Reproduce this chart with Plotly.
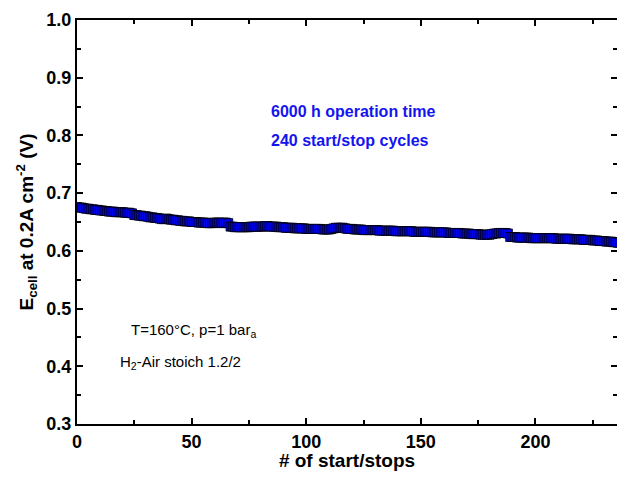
import plotly.graph_objects as go

cycles = list(range(0, 241))
e_cell = [
    0.676, 0.675, 0.675, 0.674, 0.673, 0.673, 0.672, 0.672, 0.671, 0.671,
    0.670, 0.670, 0.669, 0.669, 0.668, 0.668, 0.668, 0.667, 0.667, 0.667,
    0.667, 0.666, 0.666, 0.666, 0.665, 0.662, 0.662, 0.661, 0.661, 0.660,
    0.660, 0.659, 0.658, 0.658, 0.657, 0.657, 0.656, 0.655, 0.655, 0.656,
    0.655, 0.654, 0.654, 0.653, 0.653, 0.652, 0.652, 0.651, 0.651, 0.651,
    0.650, 0.650, 0.650, 0.649, 0.649, 0.649, 0.649, 0.648, 0.648, 0.648,
    0.649, 0.649, 0.649, 0.648, 0.649, 0.649, 0.648, 0.642, 0.642, 0.641,
    0.641, 0.641, 0.641, 0.641, 0.641, 0.641, 0.642, 0.642, 0.642, 0.642,
    0.642, 0.642, 0.643, 0.643, 0.642, 0.642, 0.642, 0.642, 0.641, 0.641,
    0.641, 0.640, 0.640, 0.640, 0.640, 0.639, 0.639, 0.639, 0.639, 0.639,
    0.638, 0.638, 0.638, 0.638, 0.638, 0.638, 0.638, 0.637, 0.637, 0.637,
    0.637, 0.638, 0.639, 0.640, 0.640, 0.640, 0.640, 0.639, 0.638, 0.638,
    0.638, 0.637, 0.637, 0.637, 0.637, 0.636, 0.636, 0.636, 0.636, 0.636,
    0.636, 0.636, 0.635, 0.635, 0.635, 0.635, 0.635, 0.635, 0.635, 0.634,
    0.634, 0.634, 0.634, 0.634, 0.634, 0.634, 0.634, 0.633, 0.633, 0.633,
    0.633, 0.633, 0.633, 0.633, 0.633, 0.632, 0.632, 0.632, 0.632, 0.632,
    0.632, 0.632, 0.631, 0.631, 0.631, 0.631, 0.631, 0.631, 0.630, 0.630,
    0.630, 0.630, 0.629, 0.629, 0.629, 0.629, 0.628, 0.628, 0.628, 0.628,
    0.628, 0.629, 0.630, 0.630, 0.631, 0.631, 0.631, 0.631, 0.630, 0.624,
    0.624, 0.624, 0.623, 0.623, 0.623, 0.623, 0.623, 0.623, 0.622, 0.622,
    0.622, 0.622, 0.622, 0.622, 0.622, 0.622, 0.622, 0.622, 0.622, 0.621,
    0.621, 0.621, 0.621, 0.621, 0.621, 0.621, 0.620, 0.620, 0.620, 0.620,
    0.620, 0.619, 0.619, 0.619, 0.619, 0.618, 0.618, 0.618, 0.617, 0.617,
    0.617, 0.616, 0.616, 0.616, 0.615, 0.615, 0.614, 0.614, 0.613, 0.613,
    0.612,
]
x_ticks = [0, 50, 100, 150, 200]
y_ticks = [0.3, 0.4, 0.5, 0.6, 0.7, 0.8, 0.9, 1.0]
y_tick_labels = ["0.3", "0.4", "0.5", "0.6", "0.7", "0.8", "0.9", "1.0"]

FONT = "Liberation Sans, Arial, sans-serif"

fig = go.Figure()
fig.add_trace(go.Scatter(
    x=cycles, y=e_cell, mode="markers",
    marker=dict(symbol="square", size=9, color="rgb(0,0,240)",
                line=dict(color="black", width=0.8)),
    showlegend=False,
))
# invisible trace to activate right-hand tick axis
fig.add_trace(go.Scatter(x=[cycles[0]], y=[e_cell[0]], yaxis="y2",
                         mode="markers", marker=dict(opacity=0),
                         showlegend=False, hoverinfo="skip"))

fig.update_layout(
    width=609, height=463,
    margin=dict(l=69, r=0, t=12, b=47, autoexpand=False),
    paper_bgcolor="white", plot_bgcolor="white",
    font=dict(family=FONT, color="black"),
    xaxis=dict(
        range=[0, 235.6], tickvals=x_ticks, automargin=False,
        ticks="inside", ticklen=6, tickwidth=1.5, tickcolor="black",
        minor=dict(ticks="inside", ticklen=4, tickwidth=1.5, dtick=25, tick0=0, tickcolor="black"),
        showline=True, linecolor="black", linewidth=2, mirror="ticks",
        showgrid=False, zeroline=False,
        tickfont=dict(size=18, family=FONT, weight="bold"),
        title=dict(text="<b># of start/stops</b>", font=dict(size=19, family=FONT), standoff=6),
    ),
    yaxis=dict(
        range=[0.3, 1.0], tickvals=y_ticks, ticktext=y_tick_labels, automargin=False,
        ticks="inside", ticklen=6, tickwidth=1.5, tickcolor="black",
        minor=dict(ticks="inside", ticklen=4, tickwidth=1.5, dtick=0.05, tick0=0.3, tickcolor="black"),
        showline=True, linecolor="black", linewidth=2, mirror=False,
        showgrid=False, zeroline=False,
        tickfont=dict(size=18, family=FONT, weight="bold"),
        title=dict(text="<b>E<sub>cell</sub> at 0.2A cm<sup>-2</sup> (V)</b>",
                   font=dict(size=19, family=FONT), standoff=8),
    ),
    yaxis2=dict(
        overlaying="y", side="right", matches="y", range=[0.3, 1.0], automargin=False,
        tickvals=y_ticks, showticklabels=False,
        ticks="inside", ticklen=6, tickwidth=1.5, tickcolor="black",
        minor=dict(ticks="inside", ticklen=4, tickwidth=1.5, dtick=0.05, tick0=0.3, tickcolor="black"),
        showline=False, showgrid=False, zeroline=False,
    ),
)

ann_blue = dict(size=16, family=FONT, color="rgb(20,20,240)")
ann_black = dict(size=15, family=FONT, color="black")
fig.add_annotation(x=83.8, y=0.841, text="<b>6000 h operation time</b>", showarrow=False,
                   xanchor="left", yanchor="middle", font=ann_blue)
fig.add_annotation(x=83.8, y=0.792, text="<b>240 start/stop cycles</b>", showarrow=False,
                   xanchor="left", yanchor="middle", font=ann_blue)
fig.add_annotation(x=22.8, y=0.462, text="T=160°C, p=1 bar<sub>a</sub>", showarrow=False,
                   xanchor="left", yanchor="middle", font=ann_black)
fig.add_annotation(x=18.0, y=0.407, text="H<sub>2</sub>-Air stoich 1.2/2", showarrow=False,
                   xanchor="left", yanchor="middle", font=ann_black)

fig.write_html("out.html")
